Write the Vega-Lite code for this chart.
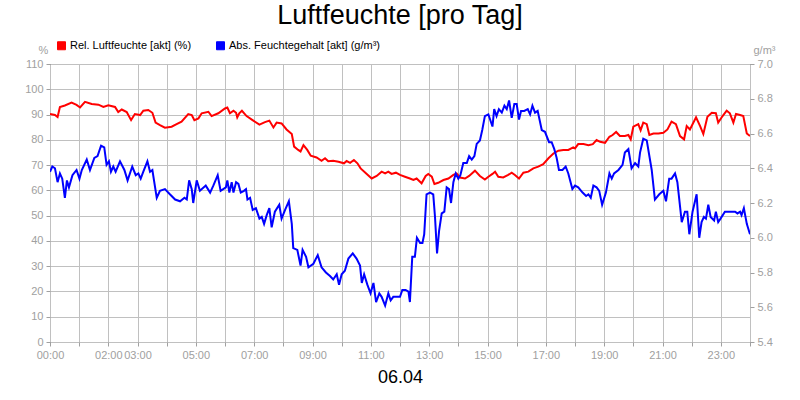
{
  "$schema": "https://vega.github.io/schema/vega-lite/v6.json",
  "width": 700,
  "height": 278,
  "autosize": {"type": "none"},
  "padding": {"left": 50, "top": 64, "right": 50, "bottom": 58},
  "background": "white",
  "title": {
    "text": "Luftfeuchte [pro Tag]",
    "font": "Liberation Sans",
    "fontSize": 27,
    "fontWeight": "normal",
    "color": "black",
    "anchor": "middle",
    "frame": "group",
    "baseline": "alphabetic",
    "offset": -11
  },
  "config": {
    "view": {"stroke": "black", "strokeWidth": 1},
    "axis": {
      "labelFont": "Liberation Sans",
      "labelFontSize": 11,
      "labelColor": "#a0a0a0",
      "tickColor": "#a0a0a0",
      "tickSize": 4,
      "gridColor": "#c0c0c0",
      "gridOpacity": 1,
      "domain": false,
      "titleFont": "Liberation Sans",
      "titleFontWeight": "normal"
    }
  },
  "datasets": {
    "rel": [
      {"t": 0.00, "v": 90.2}, {"t": 0.17, "v": 89.8}, {"t": 0.26, "v": 89.0}, {"t": 0.34, "v": 93.0},
      {"t": 0.51, "v": 93.6}, {"t": 0.74, "v": 94.7}, {"t": 0.91, "v": 93.8}, {"t": 1.03, "v": 92.8},
      {"t": 1.20, "v": 95.0}, {"t": 1.43, "v": 94.2}, {"t": 1.66, "v": 93.9}, {"t": 1.83, "v": 93.0},
      {"t": 2.00, "v": 93.7}, {"t": 2.23, "v": 93.0}, {"t": 2.34, "v": 91.0}, {"t": 2.46, "v": 92.0},
      {"t": 2.63, "v": 91.0}, {"t": 2.78, "v": 87.8}, {"t": 2.91, "v": 90.2}, {"t": 3.09, "v": 89.8},
      {"t": 3.20, "v": 91.5}, {"t": 3.37, "v": 91.8}, {"t": 3.51, "v": 90.7}, {"t": 3.62, "v": 86.8},
      {"t": 3.77, "v": 85.8}, {"t": 3.94, "v": 84.8}, {"t": 4.17, "v": 85.2}, {"t": 4.34, "v": 86.2},
      {"t": 4.51, "v": 87.2}, {"t": 4.74, "v": 90.2}, {"t": 4.86, "v": 89.8}, {"t": 4.95, "v": 87.8},
      {"t": 5.09, "v": 88.5}, {"t": 5.20, "v": 90.5}, {"t": 5.43, "v": 91.1}, {"t": 5.54, "v": 89.4},
      {"t": 5.77, "v": 90.5}, {"t": 6.00, "v": 92.4}, {"t": 6.08, "v": 92.8}, {"t": 6.17, "v": 90.5},
      {"t": 6.29, "v": 91.5}, {"t": 6.38, "v": 90.7}, {"t": 6.42, "v": 88.9}, {"t": 6.49, "v": 90.5},
      {"t": 6.58, "v": 91.5}, {"t": 6.74, "v": 89.4}, {"t": 6.97, "v": 87.6}, {"t": 7.18, "v": 86.0},
      {"t": 7.37, "v": 87.0}, {"t": 7.52, "v": 87.6}, {"t": 7.66, "v": 84.9}, {"t": 7.77, "v": 86.8},
      {"t": 7.94, "v": 86.5}, {"t": 8.11, "v": 84.1}, {"t": 8.29, "v": 82.3}, {"t": 8.37, "v": 77.3},
      {"t": 8.51, "v": 76.0}, {"t": 8.59, "v": 75.4}, {"t": 8.69, "v": 77.9}, {"t": 8.82, "v": 76.0},
      {"t": 8.94, "v": 73.7}, {"t": 9.14, "v": 73.0}, {"t": 9.31, "v": 71.7}, {"t": 9.43, "v": 72.7},
      {"t": 9.54, "v": 71.5}, {"t": 9.71, "v": 71.7}, {"t": 9.89, "v": 71.3}, {"t": 10.08, "v": 70.7},
      {"t": 10.17, "v": 71.6}, {"t": 10.29, "v": 70.9}, {"t": 10.42, "v": 72.0}, {"t": 10.54, "v": 70.7},
      {"t": 10.65, "v": 68.7}, {"t": 10.86, "v": 66.5}, {"t": 11.03, "v": 64.7}, {"t": 11.20, "v": 65.7},
      {"t": 11.37, "v": 67.4}, {"t": 11.49, "v": 66.7}, {"t": 11.60, "v": 67.4}, {"t": 11.71, "v": 66.5},
      {"t": 11.86, "v": 67.0}, {"t": 12.00, "v": 66.1}, {"t": 12.17, "v": 65.4}, {"t": 12.34, "v": 64.7},
      {"t": 12.46, "v": 64.1}, {"t": 12.57, "v": 64.7}, {"t": 12.74, "v": 62.8}, {"t": 12.88, "v": 65.7},
      {"t": 12.97, "v": 66.5}, {"t": 13.09, "v": 65.4}, {"t": 13.18, "v": 62.5}, {"t": 13.31, "v": 63.0},
      {"t": 13.49, "v": 64.1}, {"t": 13.66, "v": 64.7}, {"t": 13.83, "v": 66.1}, {"t": 13.94, "v": 66.7},
      {"t": 14.06, "v": 65.1}, {"t": 14.23, "v": 64.7}, {"t": 14.37, "v": 65.7}, {"t": 14.57, "v": 67.8},
      {"t": 14.74, "v": 65.7}, {"t": 14.91, "v": 64.3}, {"t": 15.03, "v": 65.4}, {"t": 15.17, "v": 66.5},
      {"t": 15.26, "v": 67.4}, {"t": 15.37, "v": 65.4}, {"t": 15.54, "v": 65.1}, {"t": 15.71, "v": 66.1},
      {"t": 15.83, "v": 67.0}, {"t": 15.94, "v": 66.1}, {"t": 16.08, "v": 64.7}, {"t": 16.23, "v": 67.0},
      {"t": 16.40, "v": 67.4}, {"t": 16.57, "v": 68.7}, {"t": 16.74, "v": 69.4}, {"t": 16.91, "v": 70.4},
      {"t": 17.09, "v": 72.7}, {"t": 17.26, "v": 74.6}, {"t": 17.43, "v": 75.7}, {"t": 17.60, "v": 76.0},
      {"t": 17.77, "v": 76.0}, {"t": 17.94, "v": 77.0}, {"t": 18.00, "v": 76.6}, {"t": 18.11, "v": 78.3},
      {"t": 18.29, "v": 78.3}, {"t": 18.46, "v": 77.9}, {"t": 18.61, "v": 78.3}, {"t": 18.74, "v": 79.9},
      {"t": 18.86, "v": 79.2}, {"t": 19.03, "v": 78.8}, {"t": 19.18, "v": 81.2}, {"t": 19.29, "v": 81.9},
      {"t": 19.41, "v": 83.1}, {"t": 19.54, "v": 81.5}, {"t": 19.71, "v": 81.5}, {"t": 19.83, "v": 81.9},
      {"t": 19.91, "v": 80.2}, {"t": 20.00, "v": 85.2}, {"t": 20.17, "v": 86.2}, {"t": 20.25, "v": 83.8},
      {"t": 20.34, "v": 86.8}, {"t": 20.46, "v": 86.2}, {"t": 20.55, "v": 81.9}, {"t": 20.69, "v": 82.5},
      {"t": 20.86, "v": 82.5}, {"t": 21.03, "v": 82.8}, {"t": 21.17, "v": 84.1}, {"t": 21.31, "v": 87.2},
      {"t": 21.46, "v": 86.2}, {"t": 21.60, "v": 81.5}, {"t": 21.74, "v": 80.2}, {"t": 21.83, "v": 85.4},
      {"t": 21.94, "v": 84.1}, {"t": 22.15, "v": 88.9}, {"t": 22.29, "v": 85.4}, {"t": 22.40, "v": 82.3},
      {"t": 22.54, "v": 89.1}, {"t": 22.69, "v": 90.7}, {"t": 22.83, "v": 90.5}, {"t": 22.91, "v": 86.8},
      {"t": 23.06, "v": 89.4}, {"t": 23.20, "v": 91.5}, {"t": 23.31, "v": 90.5}, {"t": 23.43, "v": 86.8},
      {"t": 23.52, "v": 90.2}, {"t": 23.66, "v": 89.8}, {"t": 23.77, "v": 89.4}, {"t": 23.89, "v": 82.5},
      {"t": 24.00, "v": 81.5}
    ],
    "abs": [
      {"t": 0.00, "v": 6.38}, {"t": 0.08, "v": 6.41}, {"t": 0.17, "v": 6.40}, {"t": 0.26, "v": 6.32},
      {"t": 0.34, "v": 6.37}, {"t": 0.42, "v": 6.34}, {"t": 0.51, "v": 6.23}, {"t": 0.58, "v": 6.33},
      {"t": 0.65, "v": 6.29}, {"t": 0.77, "v": 6.36}, {"t": 0.91, "v": 6.39}, {"t": 1.01, "v": 6.34},
      {"t": 1.09, "v": 6.39}, {"t": 1.26, "v": 6.45}, {"t": 1.37, "v": 6.39}, {"t": 1.52, "v": 6.46},
      {"t": 1.63, "v": 6.47}, {"t": 1.75, "v": 6.53}, {"t": 1.86, "v": 6.52}, {"t": 1.94, "v": 6.42},
      {"t": 2.02, "v": 6.44}, {"t": 2.09, "v": 6.38}, {"t": 2.17, "v": 6.41}, {"t": 2.25, "v": 6.38},
      {"t": 2.40, "v": 6.44}, {"t": 2.55, "v": 6.39}, {"t": 2.66, "v": 6.33}, {"t": 2.82, "v": 6.41},
      {"t": 2.94, "v": 6.36}, {"t": 3.03, "v": 6.37}, {"t": 3.11, "v": 6.34}, {"t": 3.20, "v": 6.38},
      {"t": 3.34, "v": 6.44}, {"t": 3.43, "v": 6.38}, {"t": 3.51, "v": 6.39}, {"t": 3.66, "v": 6.23},
      {"t": 3.77, "v": 6.27}, {"t": 3.94, "v": 6.28}, {"t": 4.11, "v": 6.25}, {"t": 4.29, "v": 6.22},
      {"t": 4.46, "v": 6.21}, {"t": 4.61, "v": 6.23}, {"t": 4.69, "v": 6.22}, {"t": 4.77, "v": 6.33},
      {"t": 4.86, "v": 6.28}, {"t": 4.91, "v": 6.20}, {"t": 5.03, "v": 6.33}, {"t": 5.14, "v": 6.27},
      {"t": 5.34, "v": 6.30}, {"t": 5.49, "v": 6.26}, {"t": 5.60, "v": 6.30}, {"t": 5.75, "v": 6.36},
      {"t": 5.85, "v": 6.27}, {"t": 6.03, "v": 6.29}, {"t": 6.08, "v": 6.33}, {"t": 6.15, "v": 6.26},
      {"t": 6.23, "v": 6.32}, {"t": 6.29, "v": 6.26}, {"t": 6.38, "v": 6.32}, {"t": 6.46, "v": 6.31},
      {"t": 6.54, "v": 6.26}, {"t": 6.65, "v": 6.27}, {"t": 6.72, "v": 6.28}, {"t": 6.77, "v": 6.22},
      {"t": 6.86, "v": 6.23}, {"t": 6.95, "v": 6.16}, {"t": 7.06, "v": 6.17}, {"t": 7.18, "v": 6.11},
      {"t": 7.26, "v": 6.12}, {"t": 7.34, "v": 6.08}, {"t": 7.43, "v": 6.13}, {"t": 7.52, "v": 6.17},
      {"t": 7.60, "v": 6.06}, {"t": 7.71, "v": 6.15}, {"t": 7.86, "v": 6.19}, {"t": 7.94, "v": 6.11},
      {"t": 8.06, "v": 6.16}, {"t": 8.19, "v": 6.21}, {"t": 8.29, "v": 6.08}, {"t": 8.34, "v": 5.94},
      {"t": 8.48, "v": 5.93}, {"t": 8.59, "v": 5.84}, {"t": 8.66, "v": 5.93}, {"t": 8.78, "v": 5.89},
      {"t": 8.86, "v": 5.83}, {"t": 9.03, "v": 5.85}, {"t": 9.18, "v": 5.90}, {"t": 9.31, "v": 5.83},
      {"t": 9.46, "v": 5.80}, {"t": 9.60, "v": 5.78}, {"t": 9.71, "v": 5.76}, {"t": 9.83, "v": 5.79},
      {"t": 9.91, "v": 5.73}, {"t": 10.00, "v": 5.79}, {"t": 10.11, "v": 5.81}, {"t": 10.23, "v": 5.88},
      {"t": 10.38, "v": 5.91}, {"t": 10.51, "v": 5.88}, {"t": 10.63, "v": 5.84}, {"t": 10.69, "v": 5.74},
      {"t": 10.77, "v": 5.79}, {"t": 10.88, "v": 5.73}, {"t": 10.99, "v": 5.68}, {"t": 11.09, "v": 5.74},
      {"t": 11.18, "v": 5.63}, {"t": 11.29, "v": 5.68}, {"t": 11.37, "v": 5.66}, {"t": 11.49, "v": 5.61},
      {"t": 11.60, "v": 5.68}, {"t": 11.68, "v": 5.64}, {"t": 11.77, "v": 5.66}, {"t": 11.89, "v": 5.66},
      {"t": 12.00, "v": 5.66}, {"t": 12.08, "v": 5.70}, {"t": 12.19, "v": 5.70}, {"t": 12.29, "v": 5.69},
      {"t": 12.34, "v": 5.63}, {"t": 12.42, "v": 5.89}, {"t": 12.51, "v": 5.89}, {"t": 12.58, "v": 6.00},
      {"t": 12.69, "v": 5.97}, {"t": 12.77, "v": 5.97}, {"t": 12.83, "v": 6.02}, {"t": 12.91, "v": 6.25},
      {"t": 13.03, "v": 6.26}, {"t": 13.14, "v": 6.25}, {"t": 13.20, "v": 6.12}, {"t": 13.27, "v": 5.91},
      {"t": 13.34, "v": 6.04}, {"t": 13.43, "v": 6.14}, {"t": 13.52, "v": 6.15}, {"t": 13.60, "v": 6.29},
      {"t": 13.68, "v": 6.28}, {"t": 13.75, "v": 6.20}, {"t": 13.83, "v": 6.32}, {"t": 13.91, "v": 6.37},
      {"t": 14.00, "v": 6.34}, {"t": 14.07, "v": 6.36}, {"t": 14.17, "v": 6.43}, {"t": 14.29, "v": 6.43},
      {"t": 14.37, "v": 6.47}, {"t": 14.46, "v": 6.45}, {"t": 14.55, "v": 6.47}, {"t": 14.63, "v": 6.54},
      {"t": 14.74, "v": 6.56}, {"t": 14.82, "v": 6.62}, {"t": 14.91, "v": 6.70}, {"t": 15.03, "v": 6.71},
      {"t": 15.17, "v": 6.64}, {"t": 15.23, "v": 6.74}, {"t": 15.31, "v": 6.70}, {"t": 15.39, "v": 6.74},
      {"t": 15.49, "v": 6.72}, {"t": 15.58, "v": 6.76}, {"t": 15.66, "v": 6.74}, {"t": 15.74, "v": 6.79},
      {"t": 15.83, "v": 6.69}, {"t": 15.92, "v": 6.77}, {"t": 16.00, "v": 6.77}, {"t": 16.08, "v": 6.68},
      {"t": 16.15, "v": 6.73}, {"t": 16.26, "v": 6.73}, {"t": 16.38, "v": 6.74}, {"t": 16.46, "v": 6.71},
      {"t": 16.54, "v": 6.76}, {"t": 16.63, "v": 6.72}, {"t": 16.72, "v": 6.73}, {"t": 16.86, "v": 6.62},
      {"t": 16.97, "v": 6.61}, {"t": 17.11, "v": 6.55}, {"t": 17.20, "v": 6.55}, {"t": 17.29, "v": 6.51},
      {"t": 17.37, "v": 6.46}, {"t": 17.45, "v": 6.39}, {"t": 17.57, "v": 6.39}, {"t": 17.68, "v": 6.41},
      {"t": 17.77, "v": 6.37}, {"t": 17.91, "v": 6.28}, {"t": 18.00, "v": 6.30}, {"t": 18.11, "v": 6.29},
      {"t": 18.26, "v": 6.26}, {"t": 18.38, "v": 6.24}, {"t": 18.46, "v": 6.25}, {"t": 18.54, "v": 6.23},
      {"t": 18.63, "v": 6.30}, {"t": 18.74, "v": 6.29}, {"t": 18.83, "v": 6.27}, {"t": 18.93, "v": 6.19},
      {"t": 19.06, "v": 6.26}, {"t": 19.18, "v": 6.37}, {"t": 19.26, "v": 6.34}, {"t": 19.34, "v": 6.37},
      {"t": 19.49, "v": 6.39}, {"t": 19.63, "v": 6.42}, {"t": 19.71, "v": 6.49}, {"t": 19.83, "v": 6.51},
      {"t": 19.94, "v": 6.40}, {"t": 20.06, "v": 6.43}, {"t": 20.17, "v": 6.41}, {"t": 20.23, "v": 6.49},
      {"t": 20.34, "v": 6.57}, {"t": 20.46, "v": 6.56}, {"t": 20.63, "v": 6.39}, {"t": 20.74, "v": 6.22},
      {"t": 20.89, "v": 6.25}, {"t": 21.03, "v": 6.27}, {"t": 21.12, "v": 6.21}, {"t": 21.23, "v": 6.34},
      {"t": 21.31, "v": 6.34}, {"t": 21.43, "v": 6.37}, {"t": 21.51, "v": 6.32}, {"t": 21.66, "v": 6.09},
      {"t": 21.77, "v": 6.15}, {"t": 21.85, "v": 6.15}, {"t": 21.92, "v": 6.02}, {"t": 22.03, "v": 6.15},
      {"t": 22.17, "v": 6.25}, {"t": 22.26, "v": 6.00}, {"t": 22.34, "v": 6.09}, {"t": 22.42, "v": 6.12},
      {"t": 22.49, "v": 6.11}, {"t": 22.57, "v": 6.19}, {"t": 22.65, "v": 6.12}, {"t": 22.77, "v": 6.10},
      {"t": 22.83, "v": 6.15}, {"t": 22.91, "v": 6.09}, {"t": 22.99, "v": 6.11}, {"t": 23.14, "v": 6.15},
      {"t": 23.26, "v": 6.15}, {"t": 23.41, "v": 6.15}, {"t": 23.49, "v": 6.15}, {"t": 23.57, "v": 6.14},
      {"t": 23.66, "v": 6.15}, {"t": 23.71, "v": 6.13}, {"t": 23.79, "v": 6.17}, {"t": 23.89, "v": 6.08},
      {"t": 24.00, "v": 6.02}
    ]
  },
  "encoding": {
    "x": {
      "field": "t",
      "type": "quantitative",
      "scale": {"domain": [0, 24], "nice": false, "zero": false},
      "axis": {
        "values": [0, 1, 2, 3, 4, 5, 6, 7, 8, 9, 10, 11, 12, 13, 14, 15, 16, 17, 18, 19, 20, 21, 22, 23, 24],
        "labelExpr": "indexof([0, 2, 3, 5, 7, 9, 11, 13, 15, 17, 19, 21, 23], datum.value) >= 0 ? (datum.value < 10 ? '0' : '') + datum.value + ':00' : ''",
        "labelOverlap": false,
        "labelFlush": false,
        "labelBound": false,
        "labelPadding": 3,
        "title": "06.04",
        "titleFontSize": 18,
        "titleColor": "black",
        "titlePadding": 8
      }
    }
  },
  "layer": [
    {
      "data": {"name": "rel"},
      "mark": {"type": "line", "strokeWidth": 2, "clip": true},
      "encoding": {
        "y": {
          "field": "v",
          "type": "quantitative",
          "scale": {"domain": [0, 110], "nice": false},
          "axis": {
            "values": [0, 10, 20, 30, 40, 50, 60, 70, 80, 90, 100, 110],
            "labelPadding": 3,
            "title": "%",
            "titleAngle": 0,
            "titleFontSize": 11,
            "titleColor": "#a0a0a0",
            "titleAlign": "center",
            "titleBaseline": "alphabetic",
            "titleX": -7,
            "titleY": -11
          }
        },
        "color": {
          "datum": "Rel. Luftfeuchte [akt] (%)",
          "scale": {
            "domain": ["Rel. Luftfeuchte [akt] (%)", "Abs. Feuchtegehalt [akt] (g/m³)"],
            "range": ["#ff0000", "#0000ff"]
          },
          "legend": {
            "title": null,
            "orient": "none",
            "legendX": 6,
            "legendY": -24,
            "direction": "horizontal",
            "symbolType": "square",
            "symbolSize": 64,
            "labelFont": "Liberation Sans",
            "labelFontSize": 11,
            "labelColor": "black",
            "labelOffset": 3,
            "columnPadding": 22,
            "encode": {
              "symbols": {
                "update": {
                  "fill": {"scale": "color", "field": "value"},
                  "stroke": {"value": "#000000"},
                  "strokeWidth": {"value": 1},
                  "opacity": {"value": 1}
                }
              }
            }
          }
        }
      }
    },
    {
      "data": {"name": "abs"},
      "mark": {"type": "line", "strokeWidth": 2, "clip": true},
      "encoding": {
        "y": {
          "field": "v",
          "type": "quantitative",
          "scale": {"domain": [5.4, 7.0], "nice": false, "zero": false},
          "axis": {
            "orient": "right",
            "values": [5.4, 5.6, 5.8, 6.0, 6.2, 6.4, 6.6, 6.8, 7.0],
            "format": ".1f",
            "grid": false,
            "labelPadding": 3,
            "title": "g/m³",
            "titleAngle": 0,
            "titleFontSize": 11,
            "titleColor": "#a0a0a0",
            "titleAlign": "left",
            "titleBaseline": "alphabetic",
            "titleX": 3,
            "titleY": -11
          }
        },
        "color": {"datum": "Abs. Feuchtegehalt [akt] (g/m³)"}
      }
    }
  ],
  "resolve": {"scale": {"y": "independent"}}
}
